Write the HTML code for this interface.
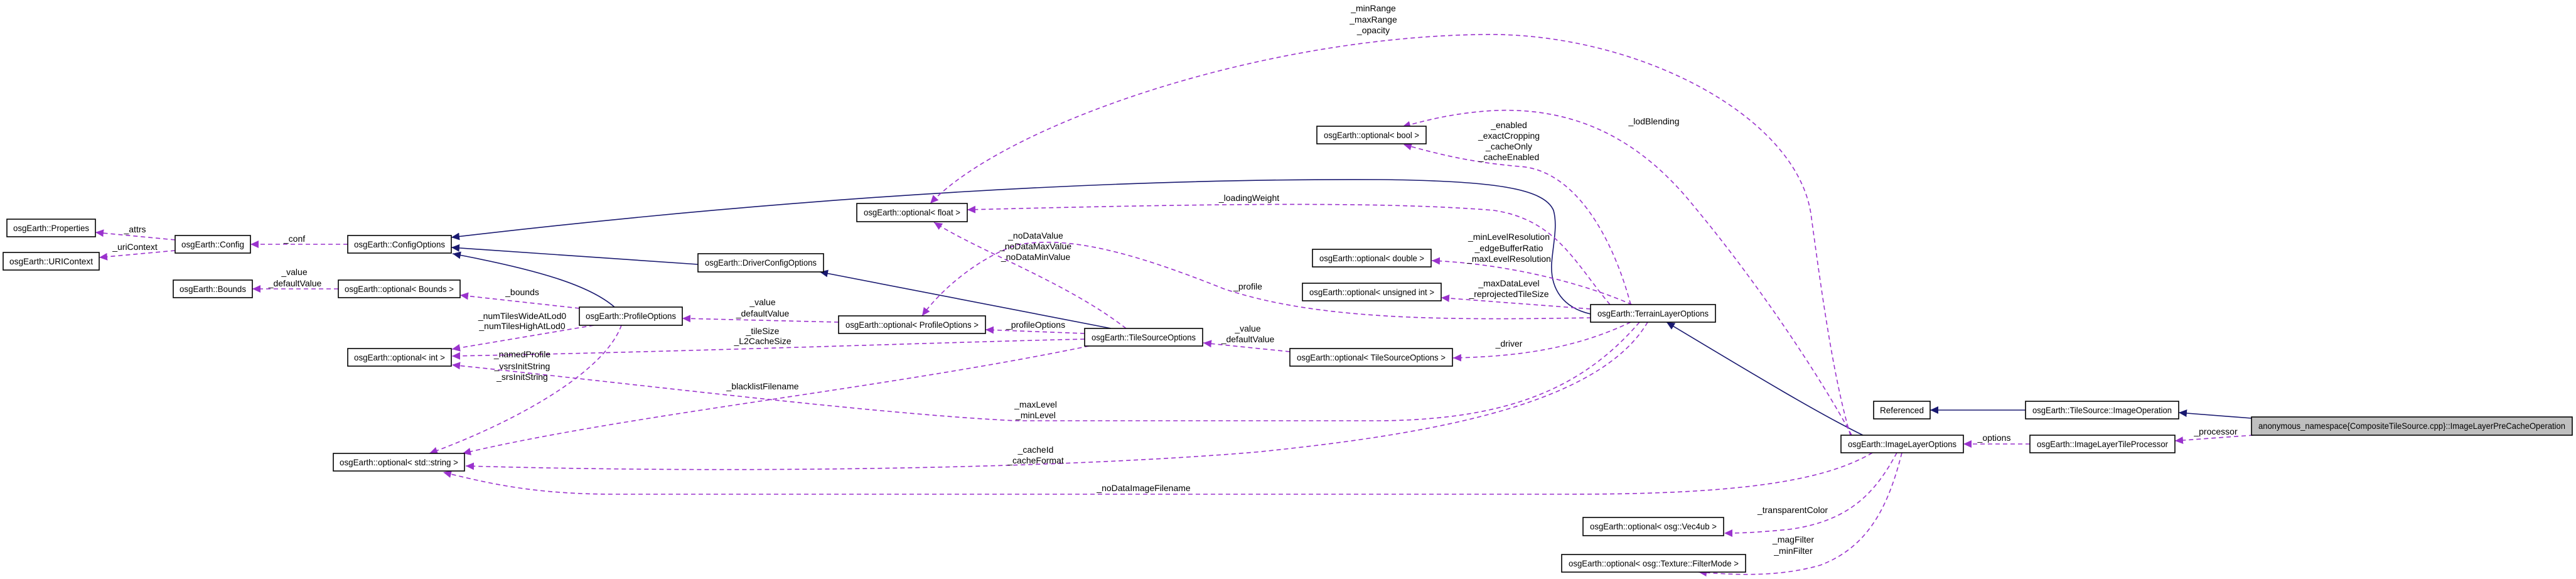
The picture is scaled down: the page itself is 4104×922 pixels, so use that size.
<!DOCTYPE html>
<html><head><meta charset="utf-8">
<style>
html,body{margin:0;padding:0;background:#fff;}
svg{display:block;}
text{font-family:"Liberation Sans",sans-serif;font-size:14px;fill:#000;}
.n{fill:#fff;stroke:#000;stroke-width:1.6;}
.b{fill:none;stroke:#191970;stroke-width:1.6;}
.p{fill:none;stroke:#9a32cd;stroke-width:1.6;stroke-dasharray:7,5;}
</style></head><body>
<svg width="4104" height="922" viewBox="0 0 4104 922" xmlns="http://www.w3.org/2000/svg">
<defs>
<marker id="ab" markerUnits="userSpaceOnUse" markerWidth="14" markerHeight="12" refX="13" refY="6" orient="auto"><path d="M0,0 L13,6 L0,12 z" fill="#191970"/></marker>
<marker id="ap" markerUnits="userSpaceOnUse" markerWidth="14" markerHeight="12" refX="13" refY="6" orient="auto"><path d="M0,0 L13,6 L0,12 z" fill="#9a32cd"/></marker>
</defs>

<!-- blue inheritance edges -->
<g class="b">
<path d="M3587,666 L3471,657" marker-end="url(#ab)"/>
<path d="M3227,653 L3075,653" marker-end="url(#ab)"/>
<path d="M2968,693 C2900,660 2800,600 2655,513" marker-end="url(#ab)"/>
<path d="M2534,500 C2490,490 2470,460 2472,420 C2474,390 2482,360 2475,335 C2460,300 2380,288 2200,286 C1800,284 1300,310 719,378" marker-end="url(#ab)"/>
<path d="M1112,421 L719,394" marker-end="url(#ab)"/>
<path d="M979,489 C940,455 860,430 721,404" marker-end="url(#ab)"/>
<path d="M1770,523 L1306,433" marker-end="url(#ab)"/>
</g>

<!-- purple member edges -->
<g class="p">
<path d="M279,382 L152,370" marker-end="url(#ap)"/>
<path d="M279,399 L158,410" marker-end="url(#ap)"/>
<path d="M554,389 L399,389" marker-end="url(#ap)"/>
<path d="M539,460 L402,460" marker-end="url(#ap)"/>
<path d="M923,491 L733,470" marker-end="url(#ap)"/>
<path d="M946,518 L720,556" marker-end="url(#ap)"/>
<path d="M990,518 C960,600 800,680 684,722" marker-end="url(#ap)"/>
<path d="M1336,513 L1087,507" marker-end="url(#ap)"/>
<path d="M1728,531 L1570,525" marker-end="url(#ap)"/>
<path d="M1728,540 C1500,545 1100,560 720,567" marker-end="url(#ap)"/>
<path d="M1735,551 C1400,620 1000,660 737,722" marker-end="url(#ap)"/>
<path d="M1794,523 C1700,450 1560,400 1488,354" marker-end="url(#ap)"/>
<path d="M2565,485 C2510,420 2480,350 2380,335 C2200,320 1900,325 1541,334" marker-end="url(#ap)"/>
<path d="M2535,506 C2300,510 2100,510 1950,460 C1800,400 1700,375 1620,390 C1560,410 1500,460 1469,503" marker-end="url(#ap)"/>
<path d="M2598,485 C2570,380 2510,270 2420,265 C2340,258 2290,245 2236,230" marker-end="url(#ap)"/>
<path d="M2950,693 C2900,600 2800,450 2700,330 C2620,230 2520,170 2380,176 C2310,180 2260,195 2234,202" marker-end="url(#ap)"/>
<path d="M2948,693 C2920,600 2900,450 2885,340 C2860,180 2600,50 2360,55 C2000,60 1600,200 1482,324" marker-end="url(#ap)"/>
<path d="M2600,485 C2520,450 2400,420 2281,415" marker-end="url(#ap)"/>
<path d="M2534,492 L2296,474" marker-end="url(#ap)"/>
<path d="M2598,513 C2500,560 2400,568 2315,570" marker-end="url(#ap)"/>
<path d="M2055,560 L1917,546" marker-end="url(#ap)"/>
<path d="M2612,513 C2520,620 2400,668 2200,670 L1620,670 C1400,660 1000,610 720,581" marker-end="url(#ap)"/>
<path d="M2625,513 C2550,640 2300,690 2000,720 C1700,745 1200,755 742,742" marker-end="url(#ap)"/>
<path d="M2983,721 C2900,770 2750,787 2500,787 L980,787 C850,787 780,770 706,752" marker-end="url(#ap)"/>
<path d="M3022,721 C2990,780 2950,830 2850,843 C2800,848 2770,849 2747,849" marker-end="url(#ap)"/>
<path d="M3030,721 C3010,800 2980,870 2900,900 C2830,920 2760,915 2706,911" marker-end="url(#ap)"/>
<path d="M3234,707 L3128,707" marker-end="url(#ap)"/>
<path d="M3590,693 L3465,702" marker-end="url(#ap)"/>
</g>

<!-- nodes -->
<g>
<rect class="n" x="11" y="349" width="141" height="28"/><text x="81.5" y="368" text-anchor="middle" textLength="121" lengthAdjust="spacingAndGlyphs">osgEarth::Properties</text>
<rect class="n" x="5" y="402" width="153" height="28"/><text x="81.5" y="421" text-anchor="middle" textLength="133" lengthAdjust="spacingAndGlyphs">osgEarth::URIContext</text>
<rect class="n" x="279" y="375" width="120" height="28"/><text x="339" y="394" text-anchor="middle" textLength="100" lengthAdjust="spacingAndGlyphs">osgEarth::Config</text>
<rect class="n" x="554" y="375" width="165" height="28"/><text x="636.5" y="394" text-anchor="middle" textLength="145" lengthAdjust="spacingAndGlyphs">osgEarth::ConfigOptions</text>
<rect class="n" x="276" y="446" width="126" height="28"/><text x="339" y="465" text-anchor="middle" textLength="106" lengthAdjust="spacingAndGlyphs">osgEarth::Bounds</text>
<rect class="n" x="539" y="446" width="194" height="28"/><text x="636" y="465" text-anchor="middle" textLength="174" lengthAdjust="spacingAndGlyphs">osgEarth::optional&lt; Bounds &gt;</text>
<rect class="n" x="923" y="489" width="164" height="29"/><text x="1005" y="508" text-anchor="middle" textLength="144" lengthAdjust="spacingAndGlyphs">osgEarth::ProfileOptions</text>
<rect class="n" x="554" y="555" width="165" height="28"/><text x="636.5" y="574" text-anchor="middle" textLength="145" lengthAdjust="spacingAndGlyphs">osgEarth::optional&lt; int &gt;</text>
<rect class="n" x="531" y="722" width="209" height="28"/><text x="635.5" y="741" text-anchor="middle" textLength="189" lengthAdjust="spacingAndGlyphs">osgEarth::optional&lt; std::string &gt;</text>
<rect class="n" x="1365" y="324" width="176" height="29"/><text x="1453" y="343" text-anchor="middle" textLength="154" lengthAdjust="spacingAndGlyphs">osgEarth::optional&lt; float &gt;</text>
<rect class="n" x="1112" y="404" width="200" height="29"/><text x="1212" y="423" text-anchor="middle" textLength="178" lengthAdjust="spacingAndGlyphs">osgEarth::DriverConfigOptions</text>
<rect class="n" x="1336" y="503" width="234" height="28"/><text x="1453" y="522" text-anchor="middle" textLength="212" lengthAdjust="spacingAndGlyphs">osgEarth::optional&lt; ProfileOptions &gt;</text>
<rect class="n" x="1728" y="523" width="188" height="28"/><text x="1822" y="542" text-anchor="middle" textLength="166" lengthAdjust="spacingAndGlyphs">osgEarth::TileSourceOptions</text>
<rect class="n" x="2098" y="201" width="174" height="28"/><text x="2185" y="220" text-anchor="middle" textLength="152" lengthAdjust="spacingAndGlyphs">osgEarth::optional&lt; bool &gt;</text>
<rect class="n" x="2091" y="397" width="189" height="28"/><text x="2185.5" y="416" text-anchor="middle" textLength="167" lengthAdjust="spacingAndGlyphs">osgEarth::optional&lt; double &gt;</text>
<rect class="n" x="2075" y="451" width="221" height="28"/><text x="2185.5" y="470" text-anchor="middle" textLength="199" lengthAdjust="spacingAndGlyphs">osgEarth::optional&lt; unsigned int &gt;</text>
<rect class="n" x="2534" y="485" width="199" height="28"/><text x="2633.5" y="504" text-anchor="middle" textLength="177" lengthAdjust="spacingAndGlyphs">osgEarth::TerrainLayerOptions</text>
<rect class="n" x="2055" y="555" width="259" height="28"/><text x="2184.5" y="574" text-anchor="middle" textLength="237" lengthAdjust="spacingAndGlyphs">osgEarth::optional&lt; TileSourceOptions &gt;</text>
<rect class="n" x="2933" y="693" width="195" height="28"/><text x="3030.5" y="712" text-anchor="middle" textLength="173" lengthAdjust="spacingAndGlyphs">osgEarth::ImageLayerOptions</text>
<rect class="n" x="2522" y="824" width="224" height="29"/><text x="2634" y="843" text-anchor="middle" textLength="202" lengthAdjust="spacingAndGlyphs">osgEarth::optional&lt; osg::Vec4ub &gt;</text>
<rect class="n" x="2488" y="883" width="293" height="28"/><text x="2634.5" y="902" text-anchor="middle" textLength="271" lengthAdjust="spacingAndGlyphs">osgEarth::optional&lt; osg::Texture::FilterMode &gt;</text>
<rect class="n" x="2985" y="639" width="90" height="28"/><text x="3030" y="658" text-anchor="middle" textLength="70" lengthAdjust="spacingAndGlyphs">Referenced</text>
<rect class="n" x="3227" y="639" width="244" height="28"/><text x="3349" y="658" text-anchor="middle" textLength="222" lengthAdjust="spacingAndGlyphs">osgEarth::TileSource::ImageOperation</text>
<rect class="n" x="3234" y="693" width="231" height="28"/><text x="3349.5" y="712" text-anchor="middle" textLength="209" lengthAdjust="spacingAndGlyphs">osgEarth::ImageLayerTileProcessor</text>
<rect class="n" x="3587" y="664" width="511" height="29" style="fill:#bfbfbf"/><text x="3842.5" y="683" text-anchor="middle" textLength="489" lengthAdjust="spacingAndGlyphs">anonymous_namespace{CompositeTileSource.cpp}::ImageLayerPreCacheOperation</text>
</g>

<!-- edge labels -->
<g text-anchor="middle">
<text x="215" y="370">_attrs</text>
<text x="215" y="398">_uriContext</text>
<text x="469" y="385">_conf</text>
<text x="469" y="438">_value</text>
<text x="470" y="456">_defaultValue</text>
<text x="832" y="470">_bounds</text>
<text x="832" y="508">_numTilesWideAtLod0</text>
<text x="832" y="524">_numTilesHighAtLod0</text>
<text x="832" y="569">_namedProfile</text>
<text x="832" y="588">_vsrsInitString</text>
<text x="832" y="605">_srsInitString</text>
<text x="1650" y="380">_noDataValue</text>
<text x="1650" y="397">_noDataMaxValue</text>
<text x="1650" y="414">_noDataMinValue</text>
<text x="1215" y="486">_value</text>
<text x="1215" y="504">_defaultValue</text>
<text x="1215" y="532">_tileSize</text>
<text x="1215" y="548">_L2CacheSize</text>
<text x="1650" y="522">_profileOptions</text>
<text x="1215" y="620">_blacklistFilename</text>
<text x="1650" y="649">_maxLevel</text>
<text x="1650" y="666">_minLevel</text>
<text x="1650" y="721">_cacheId</text>
<text x="1650" y="738">_cacheFormat</text>
<text x="1822" y="782">_noDataImageFilename</text>
<text x="1990" y="320">_loadingWeight</text>
<text x="1988" y="461">_profile</text>
<text x="1988" y="528">_value</text>
<text x="1988" y="545">_defaultValue</text>
<text x="2188" y="18">_minRange</text>
<text x="2188" y="36">_maxRange</text>
<text x="2188" y="53">_opacity</text>
<text x="2635" y="198">_lodBlending</text>
<text x="2404" y="204">_enabled</text>
<text x="2404" y="221">_exactCropping</text>
<text x="2404" y="238">_cacheOnly</text>
<text x="2404" y="255">_cacheEnabled</text>
<text x="2404" y="382">_minLevelResolution</text>
<text x="2404" y="400">_edgeBufferRatio</text>
<text x="2404" y="417">_maxLevelResolution</text>
<text x="2404" y="456">_maxDataLevel</text>
<text x="2404" y="473">_reprojectedTileSize</text>
<text x="2404" y="552">_driver</text>
<text x="2856" y="817">_transparentColor</text>
<text x="2857" y="864">_magFilter</text>
<text x="2857" y="882">_minFilter</text>
<text x="3177" y="702">_options</text>
<text x="3530" y="692">_processor</text>
</g>
</svg>
</body></html>
